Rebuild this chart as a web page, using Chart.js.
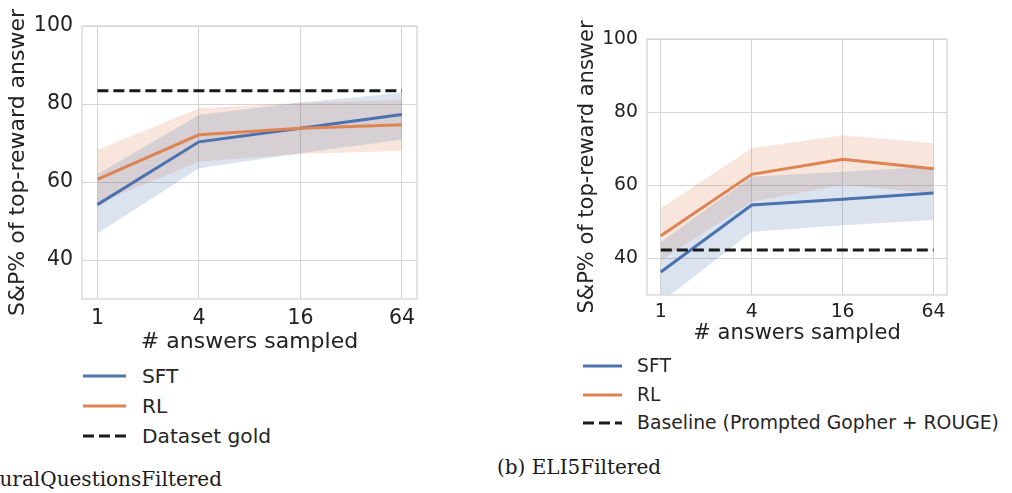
<!DOCTYPE html>
<html>
<head>
<meta charset="utf-8">
<script src="https://cdn.jsdelivr.net/npm/chart.js@4.4.1/dist/chart.umd.min.js"></script>
<style>
  html, body { margin: 0; padding: 0; background: #fff; }
  body { width: 1012px; height: 493px; position: relative; overflow: hidden;
         font-family: "DejaVu Sans", sans-serif; color: #262626; }
  .box { position: absolute; }
  .legend-item { position: absolute; white-space: nowrap; line-height: 24px; }
  .legend-item svg { position: absolute; left: 0; top: 0; overflow: visible; }
  .caption { position: absolute; font-family: "DejaVu Serif", serif; font-size: 20px;
             line-height: 24px; white-space: nowrap; color: #1a1a1a; }
</style>
</head>
<body>
<div class="box" style="left:0;top:0;width:440px;height:360px"><canvas id="chartNQ"></canvas></div>
<div class="box" style="left:560px;top:0;width:452px;height:360px"><canvas id="chartELI5"></canvas></div>
<div id="legendNQ"></div>
<div id="legendELI5"></div>
<div class="caption" style="right:790px;top:467px">(a) NaturalQuestionsFiltered</div>
<div class="caption" style="left:497px;top:455px">(b) ELI5Filtered</div>

<script>
const samples = [1, 4, 16, 64];
const yTicks = [40, 60, 80, 100];

// (a) NaturalQuestionsFiltered
const nqSft = [54.2, 70.3, 73.8, 77.3];
const nqSftLow = [46.8, 63.5, 67.4, 70.9];
const nqSftHigh = [62.0, 77.2, 80.4, 82.9];
const nqRl = [60.7, 72.1, 73.8, 74.7];
const nqRlLow = [54.5, 65.2, 67.2, 68.0];
const nqRlHigh = [68.2, 78.9, 80.3, 81.0];
const nqGold = 83.4;

// (b) ELI5Filtered
const eliSft = [36.3, 54.6, 56.2, 57.9];
const eliSftLow = [28.0, 47.3, 49.1, 50.5];
const eliSftHigh = [44.5, 62.3, 63.7, 65.1];
const eliRl = [46.2, 63.0, 67.1, 64.5];
const eliRlLow = [39.5, 55.5, 60.1, 57.8];
const eliRlHigh = [53.7, 70.1, 73.7, 71.5];
const eliBaseline = 42.3;

const blue = "#4c72b0";
const orange = "#dd8452";
const blueBand = "rgba(76,114,176,0.2)";
const orangeBand = "rgba(221,132,82,0.2)";
const ink = "#222222";
const gridColor = "#d4d4d4";

const pts = vals => samples.map((s, i) => ({ x: s, y: vals[i] }));
const flat = v => samples.map(s => ({ x: s, y: v }));

const frame = {
    id: "frame",
    beforeDatasetsDraw(chart) {
        const { ctx, chartArea: a } = chart;
        ctx.save();
        ctx.strokeStyle = gridColor;
        ctx.lineWidth = 1.25;
        ctx.strokeRect(a.left, a.top, a.right - a.left, a.bottom - a.top);
        ctx.restore();
    }
};

function lineSet(label, data, color, dash) {
    return {
        label, data: pts(data), borderColor: color, borderWidth: 3,
        borderDash: dash || [], pointRadius: 0, tension: 0, fill: false
    };
}

function bandSets(low, high, color) {
    return [
        { data: pts(low), borderWidth: 0, borderColor: "transparent", pointRadius: 0, fill: false },
        { data: pts(high), borderWidth: 0, borderColor: "transparent", pointRadius: 0,
          fill: "-1", backgroundColor: color }
    ];
}

function makeChart(id, d, s) {
    const datasets = [
        {
            label: d.refLabel, data: flat(d.ref), borderColor: "#1a1a1a", borderWidth: 3,
            borderDash: [11, 5], pointRadius: 0, fill: false
        },
        lineSet("RL", d.rl, orange),
        lineSet("SFT", d.sft, blue),
        ...bandSets(d.sftLow, d.sftHigh, blueBand),
        ...bandSets(d.rlLow, d.rlHigh, orangeBand)
    ];
    return new Chart(document.getElementById(id), {
        type: "line",
        data: { datasets },
        plugins: [frame],
        options: {
            responsive: true,
            maintainAspectRatio: false,
            animation: false,
            layout: { padding: { left: 0, top: s.top, right: s.right, bottom: 0 } },
            plugins: {
                legend: { display: false },
                tooltip: { enabled: false },
                filler: { drawTime: "beforeDatasetsDraw" }
            },
            scales: {
                x: {
                    type: "logarithmic",
                    min: 0.81,
                    max: 78.6,
                    afterBuildTicks: sc => { sc.ticks = samples.map(v => ({ value: v })); },
                    afterFit: sc => { sc.height = s.xH; },
                    grid: { color: gridColor, lineWidth: 1, drawTicks: false },
                    border: { display: false },
                    ticks: {
                        callback: v => String(v), autoSkip: false, maxRotation: 0,
                        padding: s.xPad, color: ink,
                        font: { family: "DejaVu Sans", size: s.tick }
                    },
                    title: {
                        display: true, text: "# answers sampled", color: ink,
                        font: { family: "DejaVu Sans", size: s.title },
                        padding: { top: 0, bottom: s.xTitlePad }
                    }
                },
                y: {
                    min: 30,
                    max: 100,
                    afterBuildTicks: sc => { sc.ticks = yTicks.map(v => ({ value: v })); },
                    afterFit: sc => { sc.width = s.yW; },
                    grid: { color: gridColor, lineWidth: 1, drawTicks: false },
                    border: { display: false },
                    ticks: {
                        padding: 9, color: ink,
                        font: { family: "DejaVu Sans", size: s.tick }
                    },
                    title: {
                        display: true, text: "S&P% of top-reward answer", color: ink,
                        font: { family: "DejaVu Sans", size: s.title },
                        padding: { top: s.yTitlePad, bottom: 0 }
                    }
                }
            }
        }
    });
}

makeChart("chartNQ", {
    sft: nqSft, sftLow: nqSftLow, sftHigh: nqSftHigh,
    rl: nqRl, rlLow: nqRlLow, rlHigh: nqRlHigh,
    ref: nqGold, refLabel: "Dataset gold"
}, { top: 26, right: 23, xH: 61, yW: 82, tick: 20.5, title: 22, xPad: 7, xTitlePad: 5, yTitlePad: 5 });

makeChart("chartELI5", {
    sft: eliSft, sftLow: eliSftLow, sftHigh: eliSftHigh,
    rl: eliRl, rlLow: eliRlLow, rlHigh: eliRlHigh,
    ref: eliBaseline, refLabel: "Baseline (Prompted Gopher + ROUGE)"
}, { top: 39, right: 65, xH: 65, yW: 87, tick: 18.8, title: 21, xPad: 6, xTitlePad: 14, yTitlePad: 15 });

// legends below each panel
function buildLegend(id, items, g) {
    const el = document.getElementById(id);
    items.forEach((it, i) => {
        const row = document.createElement("div");
        row.className = "legend-item";
        row.style.left = g.x + "px";
        row.style.top = (g.rows[i] - 12) + "px";
        row.style.fontSize = g.font + "px";
        row.style.paddingLeft = g.textX + "px";
        row.innerHTML =
            `<svg width="${g.len}" height="24"><line x1="0" y1="12" x2="${g.len}" y2="12" ` +
            `stroke="${it.color}" stroke-width="3" ${it.dash ? 'stroke-dasharray="11 5"' : ""}/></svg>` +
            it.label;
        el.appendChild(row);
    });
}

buildLegend("legendNQ", [
    { label: "SFT", color: blue },
    { label: "RL", color: orange },
    { label: "Dataset gold", color: "#1a1a1a", dash: true }
], { x: 83, len: 43, textX: 59, font: 20.2, rows: [376, 406, 435.5] });

buildLegend("legendELI5", [
    { label: "SFT", color: blue },
    { label: "RL", color: orange },
    { label: "Baseline (Prompted Gopher + ROUGE)", color: "#1a1a1a", dash: true }
], { x: 583, len: 39, textX: 54, font: 18.8, rows: [366, 394.5, 422.5] });
</script>
</body>
</html>
